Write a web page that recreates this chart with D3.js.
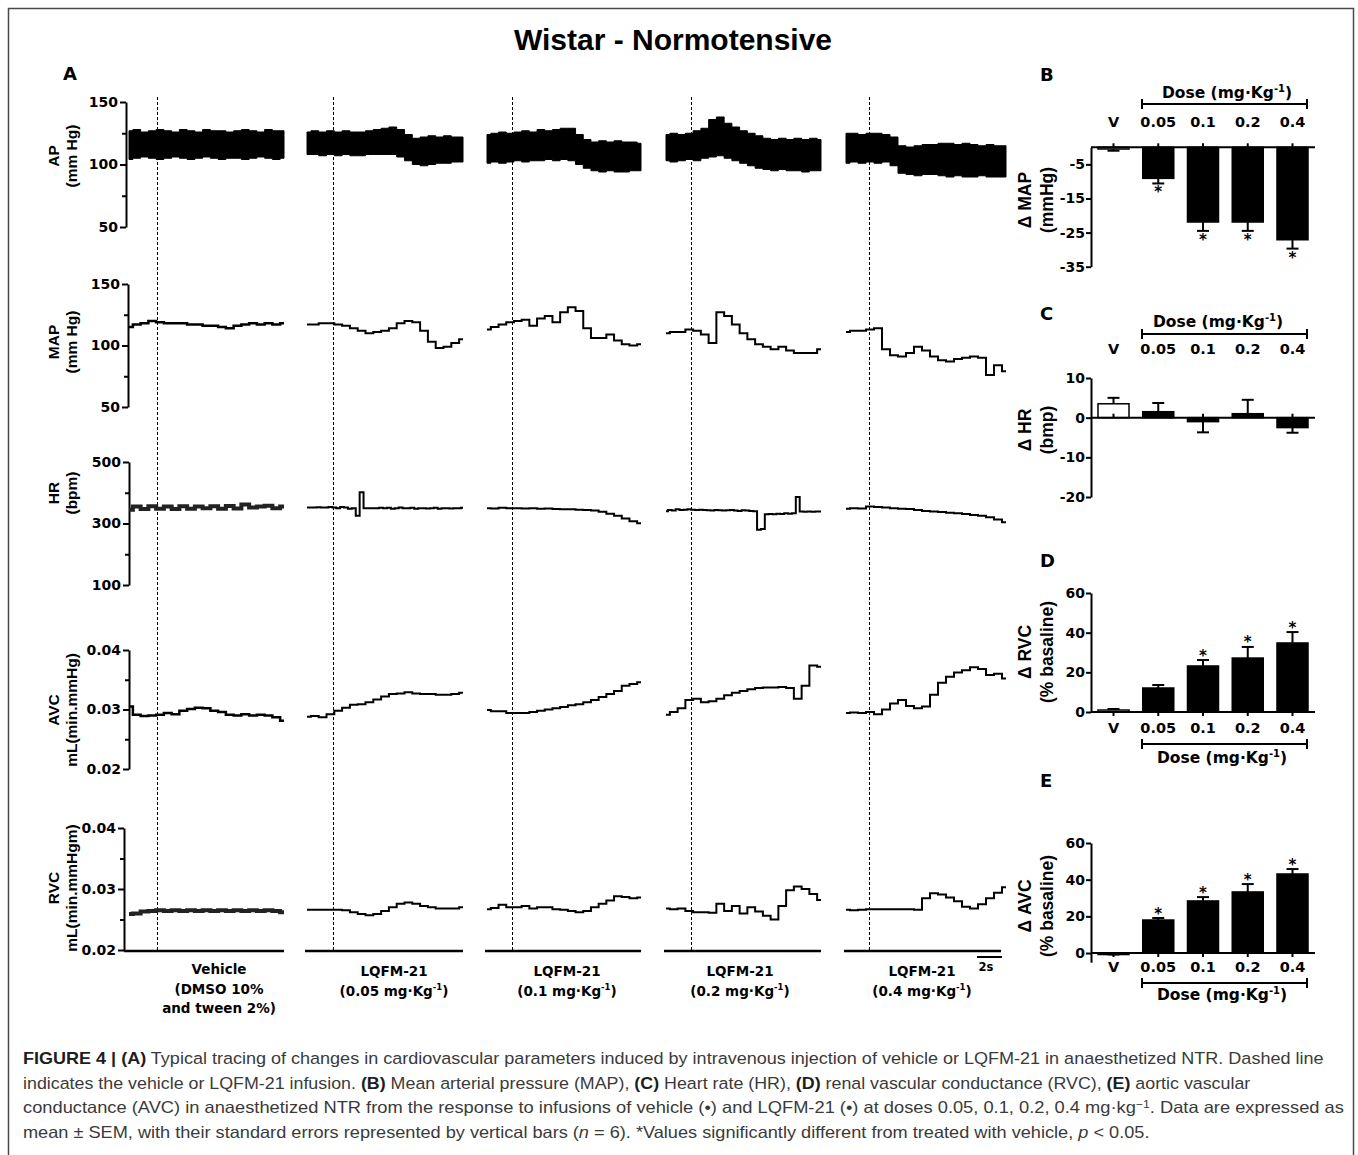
<!DOCTYPE html>
<meta charset="utf-8">
<style>
body { margin: 0; background: #fff; }
svg { display: block; }
.axis path, .axis line { stroke: #000; stroke-width: 2px; }
.axis text { font-family: "DejaVu Sans", sans-serif; font-weight: bold; fill: #000; }
.trace { fill: none; stroke: #000; stroke-width: 2px; stroke-linejoin: miter; }
.dash { stroke: #000; stroke-width: 1px; stroke-dasharray: 3,2; }
.lab { font-family: "Liberation Sans", Arial, sans-serif; font-weight: bold; fill: #000; }
.dv { font-family: "DejaVu Sans", sans-serif; font-weight: bold; fill: #000; }
.caption { font-family: "Liberation Sans", Arial, sans-serif; font-size: 16.5px; fill: #3a3a3a; white-space: pre; }
</style>
<body>
<script src="https://cdnjs.cloudflare.com/ajax/libs/d3/7.8.5/d3.min.js"></script>
<script>

// ---- data: tracings (panel A), one array per column: vehicle, 0.05, 0.1, 0.2, 0.4
var colDoses = [null, "0.05", "0.1", "0.2", "0.4"];

var apSys = [
  [127,128,126,127,128,127,126,128,127,126,128,127,127,126,127,128,127,126,128,127,127],
  [126,127,126,127,126,127,126,126,127,128,129,130,128,124,121,122,123,122,123,122,122],
  [124,125,126,125,126,127,126,128,127,128,129,129,124,120,118,119,118,119,118,118,117],
  [124,125,124,125,127,129,136,138,133,130,127,125,123,121,120,121,120,121,120,121,120],
  [125,125,124,125,125,124,122,115,114,115,116,116,117,117,116,117,116,115,116,115,115]
];
var apDia = [
  [104,105,106,105,104,105,106,105,104,105,106,105,104,105,105,104,105,106,105,104,105],
  [108,108,107,108,107,108,107,107,108,108,108,108,106,103,100,99,100,101,101,102,102],
  [101,102,101,102,103,102,103,103,104,103,104,103,100,97,95,94,95,94,94,95,95],
  [103,102,103,104,103,105,106,107,105,103,101,99,97,96,95,96,95,95,94,95,95],
  [101,102,101,102,101,102,99,93,92,91,92,92,91,90,91,90,90,91,90,90,90]
];
var mapTrace = [
  [115,117,118,120,119,118,118,118,117,117,116,116,115,114,116,117,118,117,118,117,118],
  [117,117,118,118,117,116,114,112,110,111,112,114,118,120,119,112,103,98,99,102,105],
  [113,115,117,119,120,121,116,122,124,119,127,131,128,114,106,106,109,104,101,100,101],
  [110,111,111,113,112,109,102,127,124,117,110,105,101,99,97,99,96,94,94,94,97],
  [111,112,112,113,114,97,92,91,94,99,96,91,88,87,89,90,91,90,76,84,79]
];
var hrTrace = [
  [345,355,347,356,348,355,347,356,348,355,350,356,348,357,349,362,352,355,358,350,355],
  [352,352,352,353,352,352,354,352,350,354,352,348,350,325,402,350,350,350,350,351,350,
   351,348,350,352,350,350,351,348,350,350,349,350,351,348,350,350,349,350,350,351],
  [350,349,351,350,350,349,350,348,349,347,346,346,345,344,342,338,332,325,316,307,301],
  [340,344,342,346,344,345,346,345,344,345,344,343,342,344,343,342,343,344,342,341,343,
   342,341,340,280,282,330,331,330,332,331,333,332,333,386,339,338,339,338,339,339],
  [348,350,349,355,354,352,350,348,347,344,341,339,337,335,333,331,328,325,320,313,304]
];
var avcTrace = [
  [0.0305,0.0291,0.0289,0.0290,0.0291,0.0294,0.0292,0.0298,0.0301,0.0303,0.0302,0.0298,0.0296,0.0291,0.0290,0.0292,0.0290,0.0291,0.0290,0.0287,0.0281],
  [0.0288,0.0289,0.0287,0.0292,0.0298,0.0303,0.0308,0.0309,0.0312,0.0317,0.0322,0.0326,0.0327,0.0329,0.0327,0.0326,0.0326,0.0325,0.0325,0.0326,0.0328],
  [0.0299,0.0297,0.0297,0.0294,0.0294,0.0294,0.0296,0.0298,0.0300,0.0302,0.0304,0.0307,0.0309,0.0312,0.0316,0.0321,0.0326,0.0331,0.0340,0.0343,0.0346],
  [0.0291,0.0296,0.0302,0.0316,0.0318,0.0312,0.0314,0.0318,0.0324,0.0328,0.0331,0.0334,0.0336,0.0337,0.0337,0.0338,0.0336,0.0318,0.0340,0.0374,0.0372],
  [0.0294,0.0295,0.0294,0.0296,0.0292,0.0300,0.0310,0.0316,0.0306,0.0302,0.0305,0.0325,0.0345,0.0355,0.0362,0.0366,0.0371,0.0368,0.0358,0.0360,0.0352]
];
var rvcTrace = [
  [0.0259,0.0260,0.0263,0.0264,0.0265,0.0264,0.0265,0.0264,0.0265,0.0264,0.0265,0.0264,0.0265,0.0264,0.0265,0.0264,0.0265,0.0264,0.0265,0.0264,0.0262],
  [0.0266,0.0266,0.0266,0.0266,0.0266,0.0265,0.0262,0.0259,0.0257,0.0259,0.0264,0.0270,0.0276,0.0278,0.0276,0.0272,0.0270,0.0268,0.0268,0.0268,0.0270],
  [0.0267,0.0269,0.0274,0.0270,0.0270,0.0272,0.0268,0.0270,0.0270,0.0267,0.0266,0.0264,0.0262,0.0264,0.0270,0.0276,0.0281,0.0288,0.0287,0.0285,0.0286],
  [0.0268,0.0267,0.0268,0.0264,0.0262,0.0262,0.0261,0.0276,0.0264,0.0272,0.0260,0.0270,0.0263,0.0256,0.0250,0.0272,0.0298,0.0304,0.0300,0.0292,0.0282],
  [0.0266,0.0265,0.0266,0.0267,0.0267,0.0267,0.0267,0.0267,0.0267,0.0266,0.0285,0.0293,0.0291,0.0286,0.0280,0.0271,0.0268,0.0275,0.0285,0.0294,0.0303]
];

// tick values of the tracing axes
var pressTicks = [50, 100, 150], pressMinor = [75, 125];
var hrTicks = [100, 300, 500], hrMinor = [200, 400];
var condTicks = [0.02, 0.03, 0.04], condMinor = [0.025, 0.035];

// ---- data: bar panels B-E (mean, SEM, significance)
var doses = ["V", "0.05", "0.1", "0.2", "0.4"];
var mapMean = [-0.5, -9.1, -21.9, -21.9, -27.1], mapSem = [0.5, 1.5, 2.6, 2.6, 2.6], mapSig = [0, 1, 1, 1, 1];
var dhrMean = [3.5, 1.5, -1.0, 1.0, -2.5], dhrSem = [1.5, 2.2, 2.7, 3.5, 1.3], dhrSig = [0, 0, 0, 0, 0];
var rvcMean = [1.0, 12.1, 23.2, 27.2, 34.8], rvcSem = [0.5, 1.5, 3.0, 5.6, 5.5], rvcSig = [0, 0, 1, 1, 1];
var avcMean = [-0.5, 18.0, 28.4, 33.3, 43.1], avcSem = [0.3, 1.1, 2.1, 4.3, 2.7], avcSig = [0, 1, 1, 1, 1];
var mapBarTicks = [-35, -25, -15, -5], dhrBarTicks = [-20, -10, 0, 10];
var rvcBarTicks = [0, 20, 40, 60], avcBarTicks = [0, 20, 40, 60];

// ---- layout
var svg = d3.select("body").append("svg")
    .attr("width", 1358)
    .attr("height", 1155);

svg.append("rect")
    .attr("x", 8.5).attr("y", 8.5)
    .attr("width", 1345).attr("height", 1170)
    .attr("fill", "none").attr("stroke", "#4a4a4a").attr("stroke-width", 1.5);

svg.append("text")
    .attr("class", "lab")
    .attr("x", 673).attr("y", 50)
    .attr("text-anchor", "middle")
    .style("font-size", "30px")
    .text("Wistar - Normotensive");

[["A", 63, 80], ["B", 1040, 81], ["C", 1040, 320], ["D", 1040, 567], ["E", 1040, 787]].forEach(function(p) {
  svg.append("text").attr("class", "dv").attr("x", p[1]).attr("y", p[2])
      .style("font-size", "18px").text(p[0]);
});

// column positions of the tracings
var cols = [
  {x0: 129, x1: 284, dash: 157, b0: 124, b1: 284, cx: 219},
  {x0: 307, x1: 463, dash: 333, b0: 305, b1: 463, cx: 394},
  {x0: 487, x1: 641, dash: 512, b0: 485, b1: 641, cx: 567},
  {x0: 666, x1: 821, dash: 691, b0: 664, b1: 821, cx: 740},
  {x0: 846, x1: 1006, dash: 869, b0: 844, b1: 1001, cx: 922}
];

var rows = [
  {data: mapTrace, ap: true, axisX: 126, top: 102, bottom: 227, domain: [50, 150], ticks: pressTicks, minor: pressMinor, fmt: d3.format("d"), label: ["AP", "(mm Hg)"], labelY: 156},
  {data: mapTrace, axisX: 128, top: 284, bottom: 407, domain: [50, 150], ticks: pressTicks, minor: pressMinor, fmt: d3.format("d"), label: ["MAP", "(mm Hg)"], labelY: 342},
  {data: hrTrace, axisX: 129, top: 462, bottom: 585, domain: [100, 500], ticks: hrTicks, minor: hrMinor, fmt: d3.format("d"), label: ["HR", "(bpm)"], labelY: 493},
  {data: avcTrace, axisX: 129, top: 650, bottom: 769, domain: [0.02, 0.04], ticks: condTicks, minor: condMinor, fmt: d3.format(".2f"), label: ["AVC", "mL(min.mmHg)"], labelY: 710},
  {data: rvcTrace, axisX: 124, top: 828, bottom: 950, domain: [0.02, 0.04], ticks: condTicks, minor: condMinor, fmt: d3.format(".2f"), label: ["RVC", "mL(min.mmHgm)"], labelY: 888}
];

// dashed infusion lines
cols.forEach(function(c) {
  svg.append("line").attr("class", "dash")
      .attr("x1", c.dash + 0.5).attr("x2", c.dash + 0.5)
      .attr("y1", 97).attr("y2", 950);
});

rows.forEach(function(r, ri) {
  var y = d3.scaleLinear().domain(r.domain).range([r.bottom, r.top]);

  // axis with labels
  var ax = svg.append("g").attr("class", "axis")
      .attr("transform", "translate(" + r.axisX + ",0)")
      .call(d3.axisLeft(y).tickValues(r.ticks).tickSize(6).tickSizeOuter(0).tickPadding(2).tickFormat(r.fmt));
  ax.selectAll("text").style("font-size", "14px");
  // minor ticks
  svg.append("g").attr("class", "axis")
      .attr("transform", "translate(" + r.axisX + ",0)")
      .call(d3.axisLeft(y).tickValues(r.minor).tickSize(4).tickFormat(""))
      .select(".domain").remove();

  // y labels
  svg.append("text").attr("class", "lab")
      .attr("transform", "translate(59," + r.labelY + ") rotate(-90)")
      .attr("text-anchor", "middle").style("font-size", "15.5px").text(r.label[0]);
  svg.append("text").attr("class", "lab")
      .attr("transform", "translate(77," + r.labelY + ") rotate(-90)")
      .attr("text-anchor", "middle").style("font-size", "15.5px").text(r.label[1]);

  cols.forEach(function(c, ci) {
    if (r.ap) {
      var sys = apSys[ci], dia = apDia[ci];
      var xa = d3.scaleLinear().domain([0, sys.length - 1]).range([c.x0, c.x1]);
      var area = d3.area()
          .x(function(d, i) { return xa(i); })
          .y0(function(d, i) { return y(dia[i]); })
          .y1(function(d) { return y(d); })
          .curve(d3.curveStep);
      svg.append("path").datum(sys)
          .attr("d", area)
          .attr("fill", "#000").attr("stroke", "#000").attr("stroke-width", 1);
      return;
    }
    var vals = r.data[ci];
    var x = d3.scaleLinear().domain([0, vals.length - 1]).range([c.x0, c.x1]);
    var line = d3.line()
        .x(function(d, i) { return x(i); })
        .y(function(d) { return y(d); })
        .curve(d3.curveStep);
    var thick = ci === 0 && (ri === 2 || ri === 4);
    svg.append("path").datum(vals)
        .attr("class", "trace")
        .attr("d", line)
        .style("stroke-width", thick ? 4 : (ci === 0 ? 2.5 : 2))
        .style("stroke", thick ? "#222" : "#000");
  });
});

// base lines under the tracings
cols.forEach(function(c) {
  svg.append("line").attr("x1", c.b0).attr("x2", c.b1).attr("y1", 951).attr("y2", 951)
      .attr("stroke", "#000").attr("stroke-width", 2.5);
});

// 2 s scale bar
svg.append("line").attr("x1", 977).attr("x2", 1002).attr("y1", 957).attr("y2", 957)
    .attr("stroke", "#000").attr("stroke-width", 2);
svg.append("text").attr("class", "dv").attr("x", 986).attr("y", 971)
    .attr("text-anchor", "middle").style("font-size", "11.5px").text("2s");

function supText(sel, pre, sup, post, size) {
  sel.append("tspan").text(pre);
  sel.append("tspan").attr("dy", -6).style("font-size", size + "px").text(sup);
  sel.append("tspan").attr("dy", 6).text(post);
}

// column captions
cols.forEach(function(c, ci) {
  if (ci === 0) {
    ["Vehicle", "(DMSO 10%", "and tween 2%)"].forEach(function(t, k) {
      svg.append("text").attr("class", "dv").attr("x", c.cx).attr("y", 974 + k * 19.5)
          .attr("text-anchor", "middle").style("font-size", "13.5px").text(t);
    });
    return;
  }
  svg.append("text").attr("class", "dv").attr("x", c.cx).attr("y", 976)
      .attr("text-anchor", "middle").style("font-size", "13.5px").text("LQFM-21");
  var t = svg.append("text").attr("class", "dv").attr("x", c.cx).attr("y", 996)
      .attr("text-anchor", "middle").style("font-size", "13.5px");
  supText(t, "(" + colDoses[ci] + " mg·Kg", "-1", ")", 8.5);
});

// ---- bar panels
var bx = d3.scaleBand().domain(doses).range([1098, 1308]).paddingInner(0.307);

function barPanel(p) {
  var y = d3.scaleLinear().domain(p.domain).range(p.range);
  var axisX = 1091;

  var ax = svg.append("g").attr("class", "axis")
      .attr("transform", "translate(" + axisX + ",0)")
      .call(d3.axisLeft(y).tickValues(p.ticks).tickSize(5).tickSizeOuter(0).tickPadding(1)
          .tickFormat(function(d) { return String(d); }));
  ax.selectAll("text").style("font-size", "14px");

  // bars
  svg.selectAll(null).data(p.mean).enter().append("rect")
      .attr("x", function(d, i) { return bx(doses[i]); })
      .attr("width", bx.bandwidth())
      .attr("y", function(d) { return Math.min(y(d), y(0)); })
      .attr("height", function(d) { return Math.max(1.5, Math.abs(y(d) - y(0))); })
      .attr("fill", function(d, i) { return i === 0 ? "#fff" : "#000"; })
      .attr("stroke", "#000").attr("stroke-width", 1.5);

  // zero line and category ticks
  svg.append("line").attr("x1", axisX).attr("x2", 1315).attr("y1", y(0)).attr("y2", y(0))
      .attr("stroke", "#000").attr("stroke-width", 2);
  var tk = p.below ? d3.axisBottom(bx) : d3.axisTop(bx);
  svg.append("g").attr("class", "axis")
      .attr("transform", "translate(0," + y(0) + ")")
      .call(tk.tickSize(4).tickFormat(""))
      .select(".domain").remove();

  // error bars and stars
  p.mean.forEach(function(m, i) {
    var cx = bx(doses[i]) + bx.bandwidth() / 2;
    var end = m + (m >= 0 ? 1 : -1) * p.sem[i];
    svg.append("line").attr("x1", cx).attr("x2", cx).attr("y1", y(m)).attr("y2", y(end))
        .attr("stroke", "#000").attr("stroke-width", 2);
    svg.append("line").attr("x1", cx - 6).attr("x2", cx + 6).attr("y1", y(end)).attr("y2", y(end))
        .attr("stroke", "#000").attr("stroke-width", 2);
    if (p.sig[i]) {
      svg.append("text").attr("class", "dv")
          .attr("x", cx).attr("y", end < 0 ? y(end) + 14 : y(end) + 0.5)
          .attr("text-anchor", "middle").style("font-size", "15px").text("*");
    }
  });

  // category labels
  var cat = svg.append("g").attr("class", "axis")
      .attr("transform", "translate(0," + p.catY + ")")
      .call(d3.axisBottom(bx).tickSize(0).tickPadding(0));
  cat.select(".domain").remove();
  cat.selectAll("text").attr("y", 0).attr("dy", null).style("font-size", "14.5px");

  // dose bracket
  svg.append("path")
      .attr("d", "M1142," + (p.bracketY - 5) + "V" + (p.bracketY + 5) + "M1142," + p.bracketY +
                 "H1307M1307," + (p.bracketY - 5) + "V" + (p.bracketY + 5))
      .attr("stroke", "#000").attr("stroke-width", 2).attr("fill", "none");
  var dose = svg.append("text").attr("class", "dv")
      .attr("x", p.doseX).attr("y", p.doseY)
      .attr("text-anchor", "middle").style("font-size", "15.5px");
  supText(dose, "Dose (mg·Kg", "-1", ")", 10);

  // y labels
  svg.append("text").attr("class", "lab")
      .attr("transform", "translate(1031," + p.labY + ") rotate(-90)")
      .attr("text-anchor", "middle").style("font-size", "17.5px").text(p.ylab[0]);
  svg.append("text").attr("class", "lab")
      .attr("transform", "translate(1053," + p.labY + ") rotate(-90)")
      .attr("text-anchor", "middle").style("font-size", "17.5px").text(p.ylab[1]);
}

barPanel({mean: mapMean, sem: mapSem, sig: mapSig, ticks: mapBarTicks, domain: [-35, 0], range: [266.7, 147.3],
          catY: 127, bracketY: 104, doseY: 98, doseX: 1227, ylab: ["Δ MAP", "(mmHg)"], labY: 200});
barPanel({mean: dhrMean, sem: dhrSem, sig: dhrSig, ticks: dhrBarTicks, domain: [-20, 10], range: [497, 378],
          catY: 354, bracketY: 334, doseY: 327, doseX: 1218, ylab: ["Δ HR", "(bmp)"], labY: 430});
barPanel({mean: rvcMean, sem: rvcSem, sig: rvcSig, ticks: rvcBarTicks, domain: [0, 60], range: [712, 593], below: true,
          catY: 733, bracketY: 744, doseY: 763, doseX: 1222, ylab: ["Δ RVC", "(% basaline)"], labY: 652});
barPanel({mean: avcMean, sem: avcSem, sig: avcSig, ticks: avcBarTicks, domain: [-5, 60], range: [962.2, 843], below: true,
          catY: 972, bracketY: 983, doseY: 1000, doseX: 1222, ylab: ["Δ AVC", "(% basaline)"], labY: 906});

// ---- figure legend
var capLines = [
  {y: 1064, right: 1325, parts: [["FIGURE 4 | (A)", "b"], [" Typical tracing of changes in cardiovascular parameters induced by intravenous injection of vehicle or LQFM-21 in anaesthetized NTR. Dashed line", ""]]},
  {y: 1088.5, right: 1251, parts: [["indicates the vehicle or LQFM-21 infusion. ", ""], ["(B)", "b"], [" Mean arterial pressure (MAP), ", ""], ["(C)", "b"], [" Heart rate (HR), ", ""], ["(D)", "b"], [" renal vascular conductance (RVC), ", ""], ["(E)", "b"], [" aortic vascular", ""]]},
  {y: 1113, right: 1345, parts: [["conductance (AVC) in anaesthetized NTR from the response to infusions of vehicle (•) and LQFM-21 (•) at doses 0.05, 0.1, 0.2, 0.4 mg·kg", ""], ["−1", "sup"], [". Data are expressed as", "down"]]},
  {y: 1137.5, right: 1150, parts: [["mean ± SEM, with their standard errors represented by vertical bars (", ""], ["n", "i"], [" = 6). *Values significantly different from treated with vehicle, ", ""], ["p", "i"], [" < 0.05.", ""]]}
];
capLines.forEach(function(l) {
  var t = svg.append("text").attr("class", "caption").attr("x", 0).attr("y", 0);
  l.parts.forEach(function(p) {
    var s = t.append("tspan").text(p[0]);
    if (p[1] === "b") s.style("font-weight", "bold").style("fill", "#1e1e1e");
    if (p[1] === "i") s.style("font-style", "italic");
    if (p[1] === "sup") s.attr("dy", -5).style("font-size", "11px");
    if (p[1] === "down") s.attr("dy", 5);
  });
  var w = t.node().getComputedTextLength();
  t.attr("transform", "translate(23," + l.y + ") scale(" + ((l.right - 23) / w) + ",1)");
});

</script>
</body>
